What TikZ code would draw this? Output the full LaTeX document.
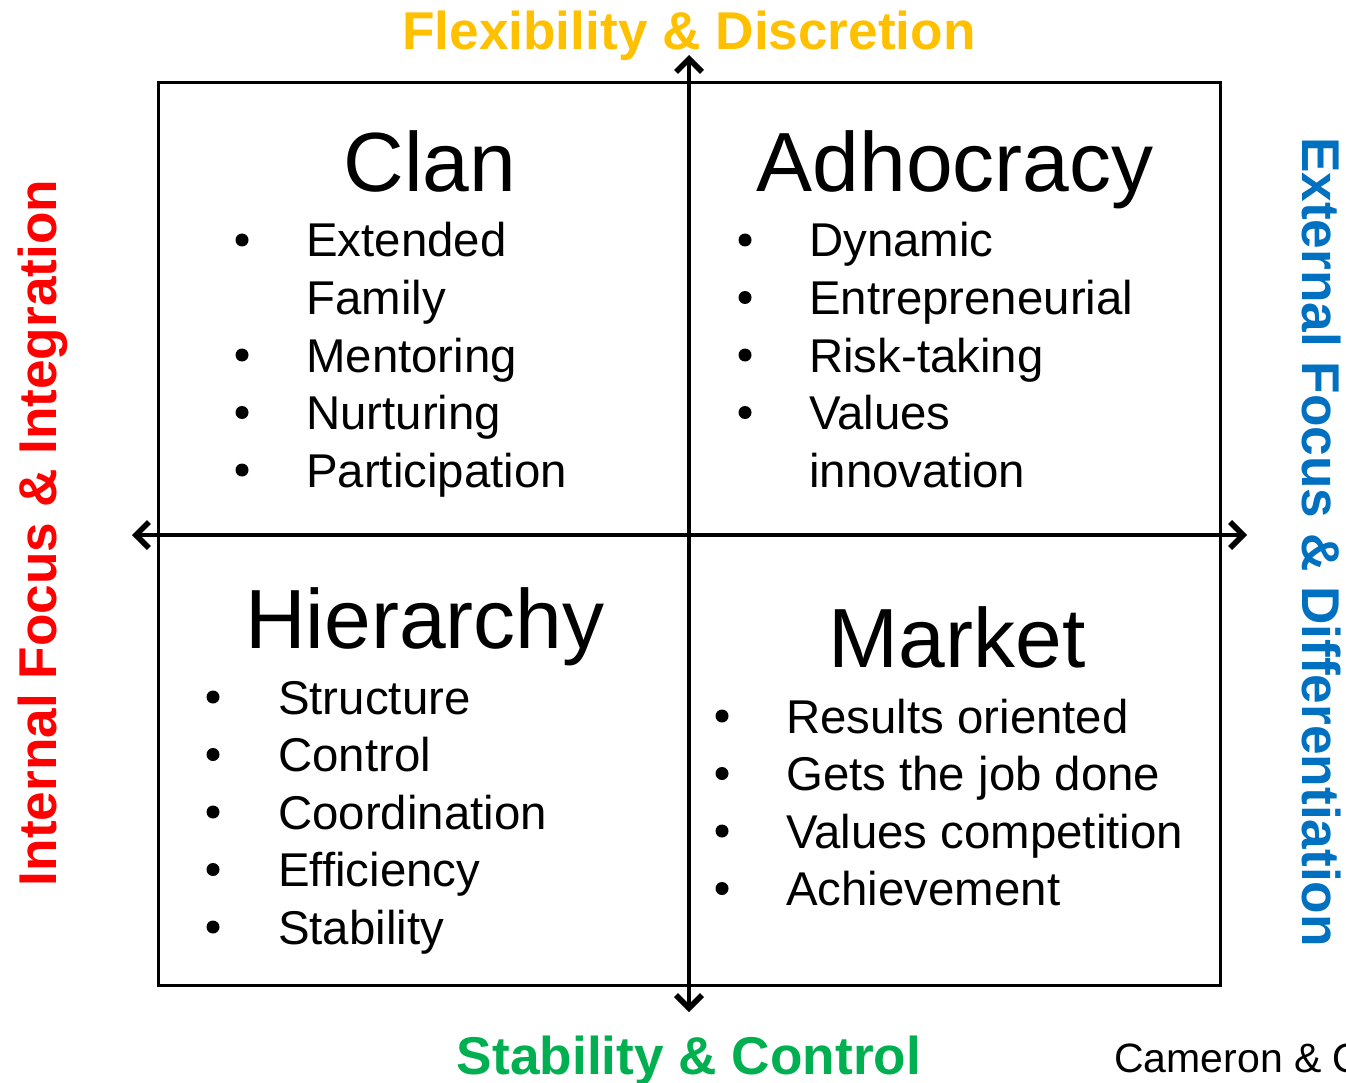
\documentclass[tikz,border=0pt]{standalone}
\usepackage{fontspec}
\setmainfont{Liberation Sans}
\usetikzlibrary{arrows.meta}
\definecolor{flexcol}{HTML}{FFC000}
\definecolor{stabcol}{HTML}{00B050}
\definecolor{intcol}{HTML}{FF0000}
\definecolor{extcol}{HTML}{0070C0}
\tikzset{
  barb/.tip={Straight Barb[length=13pt,width=26pt,line width=5.5pt]},
  axis/.style={line width=4pt, barb-barb},
  frame/.style={line width=3pt},
  axlabel/.style={font=\fontsize{53.2}{53.2}\selectfont\bfseries, inner sep=0pt},
  qtitle/.style={font=\fontsize{84}{84}\selectfont, inner sep=0pt, anchor=base},
  item/.style={font=\fontsize{47.4}{47.4}\selectfont, inner sep=0pt, anchor=base west},
  dot/.style={fill=black, circle, inner sep=0pt, minimum size=13pt},
}
\begin{document}
\begin{tikzpicture}[x=1pt,y=-1pt]
\useasboundingbox (0,0) rectangle (1346,1083);
\clip (0,0) rectangle (1346,1083);

% quadrant frame
\draw[frame] (158,83) rectangle (1220,985);

% axes
\coordinate (top) at (689,55);
\coordinate (bot) at (689,1012);
\coordinate (lft) at (132,535);
\coordinate (rgt) at (1247,535);
\draw[axis] (bot) -- (top);
\draw[axis] (lft) -- (rgt);

% axis labels
\node[axlabel, text=flexcol, anchor=base] (flex) at (689,50) {Flexibility \& Discretion};
\node[axlabel, text=stabcol, anchor=base] (stab) at (689,1074) {Stability \& Control};
\node[axlabel, text=intcol, anchor=base, rotate=90] (int) at (56,533) {Internal Focus \& Integration};
\node[axlabel, text=extcol, anchor=base, rotate=-90] (ext) at (1302,542) {External Focus \& Differentiation};

% Clan
\node[qtitle] (clan) at (430,192) {Clan};
\foreach \t/\b [count=\i from 0] in {Extended/1,Family/0,Mentoring/1,Nurturing/1,Participation/1}{
  \node[item] (clan\i) at (306,257+57.5*\i) {\t};
  \ifnum\b=1 \node[dot] at (242,240+57.5*\i) {};\fi
}

% Adhocracy
\node[qtitle] (adho) at (955,192) {Adhocracy};
\foreach \t/\b [count=\i from 0] in {Dynamic/1,Entrepreneurial/1,Risk-taking/1,Values/1,innovation/0}{
  \node[item] (adho\i) at (809,257+57.5*\i) {\t};
  \ifnum\b=1 \node[dot] at (745,240+57.5*\i) {};\fi
}

% Hierarchy
\node[qtitle] (hier) at (425,648) {Hierarchy};
\foreach \t [count=\i from 0] in {Structure,Control,Coordination,Efficiency,Stability}{
  \node[item] (hier\i) at (278,714+57.5*\i) {\t};
  \node[dot] at (213,697+57.5*\i) {};
}

% Market
\node[qtitle] (mark) at (957,667) {Market};
\foreach \t [count=\i from 0] in {Results oriented,Gets the job done,Values competition,Achievement}{
  \node[item] (mark\i) at (786,733+57.5*\i) {\t};
  \node[dot] at (722,716+57.5*\i) {};
}

% source note
\node[font=\fontsize{41}{41}\selectfont, inner sep=0pt, anchor=base west] (src) at (1114,1072) {Cameron \& Quinn};
\end{tikzpicture}
\end{document}
